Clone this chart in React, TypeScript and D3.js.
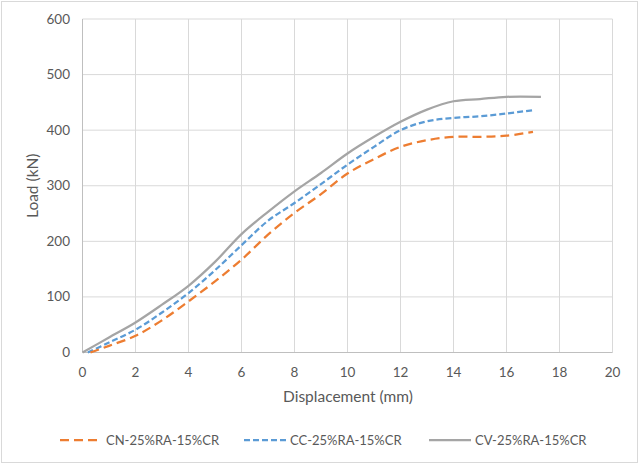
import { useRef, useEffect } from "react";
import * as d3 from "d3";

const seriesNames = ["CN-25%RA-15%CR", "CC-25%RA-15%CR", "CV-25%RA-15%CR"];

const cnX = [0.3, 1, 2, 3, 4, 5, 6, 7, 8, 9, 10, 11, 12, 13, 14, 15, 16, 17];
const cnY = [0, 12, 30, 58, 92, 128, 167, 212, 251, 285, 322, 348, 370, 382, 388, 388, 390, 397];

const ccX = [0.2, 1, 2, 3, 4, 5, 6, 7, 8, 9, 10, 11, 12, 13, 14, 15, 16, 17];
const ccY = [0, 18, 41, 72, 107, 148, 193, 237, 269, 303, 338, 370, 400, 416, 422, 425, 430, 436];

const cvX = [0, 1, 2, 3, 4, 5, 6, 7, 8, 9, 10, 11, 12, 13, 14, 15, 16, 17.3];
const cvY = [0, 27, 54, 86, 120, 163, 213, 253, 290, 323, 358, 388, 415, 437, 452, 456, 460, 460];

const xTicks = [0, 2, 4, 6, 8, 10, 12, 14, 16, 18, 20];
const yTicks = [0, 100, 200, 300, 400, 500, 600];

const colors = ["#ed7d31", "#5b9bd5", "#a5a5a5"];
const dashes = ["9,5", "6,3", null];

export default function App() {
  const svgRef = useRef<SVGSVGElement>(null);

  useEffect(() => {
    if (!svgRef.current) return;
    const svg = d3.select(svgRef.current);
    svg.selectAll("*").remove();

    const W = 640;
    const H = 465;
    const font = "Lato, 'Open Sans', sans-serif";

    svg.append("rect")
      .attr("x", 1.5).attr("y", 1.5)
      .attr("width", W - 4).attr("height", H - 4)
      .attr("fill", "#fff")
      .attr("stroke", "#d9d9d9");

    const x = d3.scaleLinear().domain([0, 20]).range([82.5, 612.5]);
    const y = d3.scaleLinear().domain([0, 600]).range([352.5, 19]);

    // gridlines
    const grid = svg.append("g");
    grid.selectAll(".vg")
      .data(xTicks.slice(1))
      .join("line")
      .attr("x1", (d) => x(d)).attr("x2", (d) => x(d))
      .attr("y1", y(600)).attr("y2", y(0))
      .attr("stroke", "#d9d9d9").attr("stroke-width", 1);
    grid.selectAll(".hg")
      .data(yTicks.slice(1))
      .join("line")
      .attr("x1", x(0)).attr("x2", x(20))
      .attr("y1", (d) => y(d)).attr("y2", (d) => y(d))
      .attr("stroke", "#d9d9d9").attr("stroke-width", 1);

    // axes lines
    svg.append("line")
      .attr("x1", x(0)).attr("x2", x(0))
      .attr("y1", y(600)).attr("y2", y(0))
      .attr("stroke", "#bfbfbf");
    svg.append("line")
      .attr("x1", x(0)).attr("x2", x(20))
      .attr("y1", y(0)).attr("y2", y(0))
      .attr("stroke", "#bfbfbf");

    // tick labels
    svg.selectAll(".xt")
      .data(xTicks)
      .join("text")
      .attr("x", (d) => x(d))
      .attr("y", 377)
      .attr("text-anchor", "middle")
      .attr("fill", "#595959")
      .style("font-family", font)
      .style("font-size", "13.5px")
      .text((d) => d);
    svg.selectAll(".yt")
      .data(yTicks)
      .join("text")
      .attr("x", 70)
      .attr("y", (d) => y(d) + 4.5)
      .attr("text-anchor", "end")
      .attr("fill", "#595959")
      .style("font-family", font)
      .style("font-size", "13.5px")
      .text((d) => d);

    // axis titles
    svg.append("text")
      .attr("x", 348).attr("y", 402)
      .attr("text-anchor", "middle")
      .attr("fill", "#595959")
      .style("font-family", font)
      .style("font-size", "15.5px")
      .text("Displacement (mm)");
    svg.append("text")
      .attr("transform", `translate(38,${y(300)}) rotate(-90)`)
      .attr("text-anchor", "middle")
      .attr("fill", "#595959")
      .style("font-family", font)
      .style("font-size", "15.5px")
      .text("Load (kN)");

    // series
    const series = [
      cnX.map((d, i) => [d, cnY[i]] as [number, number]),
      ccX.map((d, i) => [d, ccY[i]] as [number, number]),
      cvX.map((d, i) => [d, cvY[i]] as [number, number]),
    ];
    const line = d3.line<[number, number]>()
      .x((d) => x(d[0]))
      .y((d) => y(d[1]))
      .curve(d3.curveCatmullRom.alpha(0.5));

    [2, 1, 0].forEach((i) => {
      svg.append("path")
        .attr("d", line(series[i]))
        .attr("fill", "none")
        .attr("stroke", colors[i])
        .attr("stroke-width", 2.25)
        .attr("stroke-dasharray", dashes[i]);
    });

    // legend
    const legendX = [60, 244, 429];
    const lg = svg.selectAll(".lg")
      .data(seriesNames)
      .join("g")
      .attr("transform", (_, i) => `translate(${legendX[i]},440)`);
    lg.append("line")
      .attr("x1", 0).attr("x2", 42)
      .attr("y1", 0).attr("y2", 0)
      .attr("stroke", (_, i) => colors[i])
      .attr("stroke-width", 2.25)
      .attr("stroke-dasharray", (_, i) => dashes[i]);
    lg.append("text")
      .attr("x", 46).attr("y", 4.5)
      .attr("fill", "#595959")
      .style("font-family", font)
      .style("font-size", "13px")
      .text((d) => d);
  }, []);

  return (
    <div style={{ position: "absolute", left: 0, top: 0 }}>
      <svg ref={svgRef} width={640} height={465} style={{ display: "block" }} />
    </div>
  );
}
